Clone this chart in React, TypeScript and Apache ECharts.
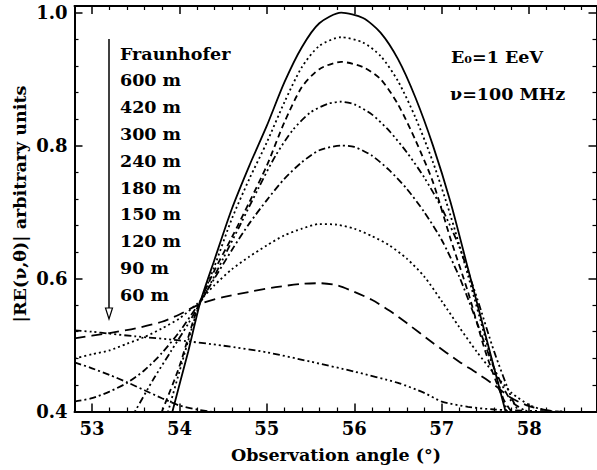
import React, { useEffect, useRef } from "react";
import * as echarts from "echarts";

const FONT = '"DejaVu Serif", "Liberation Serif", serif';

// Observation angle (deg) and |RE| (arbitrary units) for each observer distance
const angleFraunhofer = [53.85, 53.92, 54.1, 54.24, 54.4, 54.6, 54.8, 55.0, 55.2, 55.4, 55.6, 55.85, 56.1, 56.3, 56.5, 56.7, 56.9, 57.1, 57.3, 57.5, 57.73, 57.8];
const reFraunhofer = [0.36, 0.40, 0.49, 0.565, 0.628, 0.705, 0.77, 0.83, 0.895, 0.948, 0.984, 1.0, 0.992, 0.97, 0.93, 0.872, 0.80, 0.715, 0.615, 0.515, 0.40, 0.365];

const angle600 = [53.8, 53.87, 54.0, 54.2, 54.4, 54.6, 54.8, 55.0, 55.2, 55.4, 55.6, 55.85, 56.1, 56.3, 56.5, 56.7, 56.9, 57.1, 57.3, 57.5, 57.7, 57.8];
const re600 = [0.37, 0.40, 0.46, 0.55, 0.618, 0.69, 0.75, 0.805, 0.865, 0.918, 0.95, 0.963, 0.955, 0.935, 0.897, 0.842, 0.775, 0.695, 0.605, 0.51, 0.42, 0.38];

const angle420 = [53.7, 53.8, 54.0, 54.2, 54.4, 54.6, 54.8, 55.0, 55.2, 55.4, 55.6, 55.85, 56.1, 56.3, 56.5, 56.7, 56.9, 57.1, 57.3, 57.5, 57.7, 57.85];
const re420 = [0.37, 0.40, 0.468, 0.553, 0.612, 0.662, 0.715, 0.77, 0.835, 0.888, 0.915, 0.926, 0.918, 0.9, 0.862, 0.808, 0.745, 0.66, 0.58, 0.49, 0.42, 0.39];

const angle300 = [53.4, 53.5, 53.7, 53.9, 54.1, 54.3, 54.5, 54.7, 54.9, 55.1, 55.3, 55.5, 55.7, 55.85, 56.0, 56.2, 56.4, 56.6, 56.8, 57.0, 57.2, 57.4, 57.6, 57.8, 57.9];
const re300 = [0.38, 0.402, 0.448, 0.49, 0.532, 0.578, 0.63, 0.682, 0.735, 0.785, 0.824, 0.85, 0.863, 0.866, 0.862, 0.847, 0.822, 0.79, 0.752, 0.706, 0.648, 0.572, 0.49, 0.42, 0.395];

const angle240 = [52.8, 53.0, 53.2, 53.4, 53.6, 53.8, 54.0, 54.2, 54.4, 54.6, 54.8, 55.0, 55.2, 55.4, 55.6, 55.85, 56.0, 56.2, 56.4, 56.6, 56.8, 57.0, 57.2, 57.4, 57.6, 57.8, 58.0];
const re240 = [0.415, 0.42, 0.43, 0.443, 0.462, 0.488, 0.52, 0.558, 0.6, 0.643, 0.683, 0.718, 0.75, 0.775, 0.793, 0.80, 0.798, 0.785, 0.763, 0.735, 0.70, 0.658, 0.603, 0.535, 0.465, 0.415, 0.398];

const angle180 = [52.8, 53.0, 53.2, 53.4, 53.6, 53.8, 54.0, 54.2, 54.4, 54.6, 54.8, 55.0, 55.2, 55.4, 55.6, 55.8, 56.0, 56.2, 56.4, 56.6, 56.8, 57.0, 57.2, 57.4, 57.6, 57.8, 58.0, 58.2, 58.4];
const re180 = [0.48, 0.486, 0.492, 0.502, 0.512, 0.525, 0.54, 0.562, 0.59, 0.614, 0.633, 0.65, 0.665, 0.675, 0.682, 0.681, 0.675, 0.664, 0.65, 0.63, 0.603, 0.566, 0.527, 0.49, 0.457, 0.428, 0.41, 0.401, 0.398];

const angle150 = [52.8, 53.0, 53.2, 53.5, 53.8, 54.0, 54.24, 54.5, 54.8, 55.1, 55.4, 55.6, 55.8, 56.0, 56.2, 56.4, 56.6, 56.9, 57.2, 57.4, 57.6, 57.8, 58.0, 58.2, 58.4];
const re150 = [0.51, 0.514, 0.518, 0.525, 0.535, 0.546, 0.562, 0.572, 0.58, 0.587, 0.592, 0.593, 0.59, 0.58, 0.568, 0.552, 0.533, 0.503, 0.475, 0.458, 0.44, 0.42, 0.408, 0.402, 0.399];

const angle120 = [52.8, 53.0, 53.2, 53.5, 54.0, 54.5, 55.0, 55.5, 56.0, 56.5, 56.8, 57.0, 57.3, 57.6, 58.0, 58.4];
const re120 = [0.522, 0.52, 0.517, 0.513, 0.507, 0.499, 0.489, 0.475, 0.46, 0.443, 0.428, 0.415, 0.407, 0.403, 0.401, 0.4];

const angle90 = [52.8, 53.0, 53.2, 53.4, 53.6, 53.8, 54.0, 54.2, 54.4, 54.6];
const re90 = [0.474, 0.465, 0.455, 0.444, 0.432, 0.42, 0.409, 0.403, 0.399, 0.396];

const legendLabels = ["Fraunhofer", "600 m", "420 m", "300 m", "240 m", "180 m", "150 m", "120 m", "90 m", "60 m"];

const DOTTED = [2, 3];
const DASHED = [6, 4];
const DASH_3DOT = [7, 3, 2, 3, 2, 3, 2, 3];
const DASH_DOT = [7, 3, 2, 3];
const LONG_DASH = [11, 6];

const curves = [
  { name: "Fraunhofer", x: angleFraunhofer, y: reFraunhofer, dash: "solid" as any },
  { name: "600 m", x: angle600, y: re600, dash: DOTTED },
  { name: "420 m", x: angle420, y: re420, dash: DASHED },
  { name: "300 m", x: angle300, y: re300, dash: DASH_3DOT },
  { name: "240 m", x: angle240, y: re240, dash: DASH_DOT },
  { name: "180 m", x: angle180, y: re180, dash: DOTTED },
  { name: "150 m", x: angle150, y: re150, dash: LONG_DASH },
  { name: "120 m", x: angle120, y: re120, dash: DASH_3DOT },
  { name: "90 m", x: angle90, y: re90, dash: DASH_DOT },
];

const textStyle = { fontFamily: FONT, fontWeight: "bold" as const, fontSize: 17.5, fill: "#000" };

function buildOption() {
  const X_MIN = 52.8;
  const X_MAX = 58.77;
  const Y_MIN = 0.4;
  const Y_MAX = 1.01;

  const tickCommon = {
    axisLine: { show: true, lineStyle: { color: "#000", width: 2 } },
    axisTick: { show: true, inside: true, length: 8, lineStyle: { color: "#000", width: 1.5 } },
    minorTick: { show: true, splitNumber: 5, length: 4, lineStyle: { color: "#000", width: 1.2 } },
    splitLine: { show: false },
    minorSplitLine: { show: false },
  };

  const labelFont = { fontFamily: FONT, fontWeight: "bold" as const, fontSize: 18, color: "#000" };

  const graphics: any[] = [];
  legendLabels.forEach((t, i) => {
    graphics.push({
      type: "text",
      x: 120,
      y: 53.5 + i * 26.8,
      style: { ...textStyle, text: t, textAlign: "left", textVerticalAlign: "middle" },
    });
  });
  graphics.push({
    type: "line",
    shape: { x1: 109, y1: 39, x2: 109, y2: 309 },
    style: { stroke: "#000", lineWidth: 1.5 },
  });
  graphics.push({
    type: "polygon",
    shape: { points: [[105.5, 308], [112.5, 308], [109, 319]] },
    style: { fill: "#fff", stroke: "#000", lineWidth: 1.2 },
  });
  graphics.push({
    type: "text",
    x: 451,
    y: 57,
    style: { ...textStyle, text: "E₀=1 EeV", textAlign: "left", textVerticalAlign: "middle" },
  });
  graphics.push({
    type: "text",
    x: 450,
    y: 93.5,
    style: { ...textStyle, text: "ν=100 MHz", textAlign: "left", textVerticalAlign: "middle" },
  });
  graphics.push({
    type: "text",
    x: 336,
    y: 455,
    style: { ...textStyle, text: "Observation angle (°)", textAlign: "center", textVerticalAlign: "middle" },
  });
  graphics.push({
    type: "text",
    x: 20,
    y: 204,
    rotation: Math.PI / 2,
    style: { ...textStyle, text: "|RE(ν,θ)| arbitrary units", textAlign: "center", textVerticalAlign: "middle" },
  });

  return {
    animation: false,
    backgroundColor: "#fff",
    grid: { left: 74.5, right: 0.5, top: 6, bottom: 58.5, containLabel: false },
    xAxis: [
      {
        type: "value",
        position: "bottom",
        min: X_MIN,
        max: X_MAX,
        splitNumber: 6,
        ...tickCommon,
        axisLabel: {
          ...labelFont,
          margin: 8,
          showMinLabel: false,
          showMaxLabel: false,
          formatter: (v: number) => String(Math.round(v)),
        },
      },
      {
        type: "value",
        position: "top",
        min: X_MIN,
        max: X_MAX,
        splitNumber: 6,
        ...tickCommon,
        axisLabel: { show: false },
      },
    ],
    yAxis: [
      {
        type: "value",
        position: "left",
        min: Y_MIN,
        max: Y_MAX,
        interval: 0.2,
        ...tickCommon,
        axisLabel: {
          ...labelFont,
          margin: 7,
          showMaxLabel: false,
          formatter: (v: number) => (Math.abs(v - 1.01) < 1e-6 ? "" : v.toFixed(1)),
        },
      },
      {
        type: "value",
        position: "right",
        min: Y_MIN,
        max: Y_MAX,
        interval: 0.2,
        ...tickCommon,
        axisLabel: { show: false },
      },
    ],
    series: curves.map((c) => ({
      name: c.name,
      type: "line",
      xAxisIndex: 0,
      yAxisIndex: 0,
      showSymbol: false,
      symbol: "none",
      smooth: 0.25,
      clip: true,
      lineStyle: { color: "#000", width: 1.8, type: c.dash },
      data: c.x.map((x, i) => [x, c.y[i]]),
    })),
    graphic: graphics,
  };
}

export default function App() {
  const ref = useRef<HTMLDivElement>(null);
  useEffect(() => {
    if (!ref.current) return;
    const chart = echarts.init(ref.current, null, { renderer: "svg" });
    chart.setOption(buildOption() as any);
    return () => chart.dispose();
  }, []);
  return (
    <div
      ref={ref}
      style={{ position: "fixed", left: 0, top: 0, width: 597, height: 470, background: "#fff" }}
    />
  );
}
